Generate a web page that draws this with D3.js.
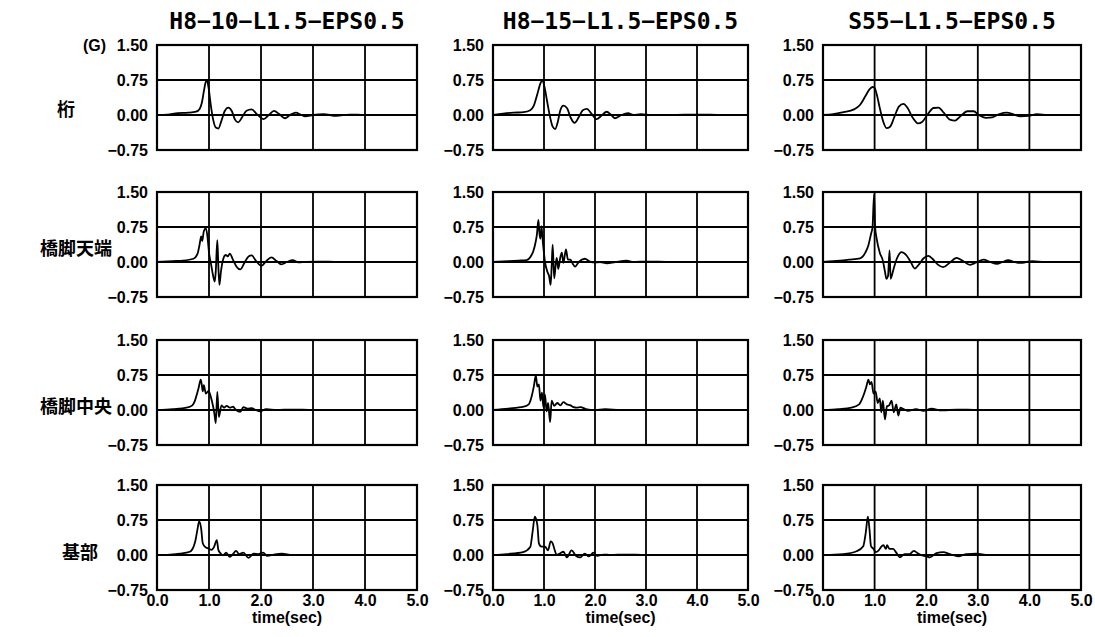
<!DOCTYPE html>
<html>
<head>
<meta charset="utf-8">
<script src="https://cdnjs.cloudflare.com/ajax/libs/d3/7.8.5/d3.min.js"></script>
<style>
  body { margin: 0; background: #fff; }
  .tick text { font-family: "Liberation Sans", Arial, sans-serif; font-weight: bold; font-size: 16px; fill: #000; }
</style>
</head>
<body>
<div class="canvas"></div>
<script>
// ------------------------ DATA ([time(sec), G])
const titles = ['H8−10−L1.5−EPS0.5', 'H8−15−L1.5−EPS0.5', 'S55−L1.5−EPS0.5'];
const rowLabels = ['桁', '橋脚天端', '橋脚中央', '基部'];
const yTicks = [-0.75, 0, 0.75, 1.5];
const xTicks = [0, 1, 2, 3, 4, 5];

const ketaH810 = [[0,0],[0.2,0.01],[0.4,0.04],[0.6,0.05],[0.75,0.07],[0.82,0.13],[0.86,0.25],[0.9,0.5],[0.93,0.68],[0.96,0.74],[0.99,0.6],[1.03,0.25],[1.08,-0.1],[1.13,-0.27],[1.18,-0.29],[1.24,-0.12],[1.3,0.08],[1.37,0.16],[1.44,0.08],[1.5,-0.1],[1.56,-0.16],[1.63,-0.06],[1.72,0.09],[1.82,0.12],[1.92,0.02],[2.05,-0.09],[2.15,0.0],[2.25,0.09],[2.35,0.02],[2.46,-0.07],[2.56,0.0],[2.67,0.05],[2.76,0.01],[2.85,-0.03],[3.0,0.0],[3.2,0.02],[3.45,-0.02],[3.7,0.01],[4.0,0.0],[4.5,0.0],[5,0]];
const ketaH815 = [[0,0],[0.2,0.03],[0.4,0.05],[0.6,0.06],[0.73,0.1],[0.8,0.2],[0.87,0.45],[0.93,0.68],[0.97,0.74],[1.01,0.6],[1.06,0.3],[1.12,-0.05],[1.17,-0.25],[1.22,-0.3],[1.27,-0.15],[1.32,0.1],[1.38,0.2],[1.45,0.15],[1.52,-0.05],[1.6,-0.17],[1.68,-0.05],[1.76,0.1],[1.84,0.13],[1.93,0.03],[2.03,-0.09],[2.13,-0.01],[2.23,0.07],[2.31,0.01],[2.39,-0.07],[2.5,-0.01],[2.65,0.04],[2.75,0.0],[2.9,0.02],[3.1,0.0],[3.5,0.0],[4,0.01],[4.5,0],[5,0]];
const ketaS55 = [[0,0],[0.2,0.02],[0.4,0.06],[0.6,0.12],[0.72,0.22],[0.82,0.4],[0.9,0.55],[0.96,0.6],[1.0,0.58],[1.04,0.45],[1.1,0.15],[1.17,-0.15],[1.23,-0.28],[1.3,-0.25],[1.38,-0.05],[1.47,0.18],[1.56,0.24],[1.64,0.15],[1.74,-0.06],[1.84,-0.18],[1.92,-0.15],[2.02,0.0],[2.14,0.15],[2.24,0.16],[2.34,0.05],[2.46,-0.1],[2.56,-0.12],[2.66,-0.03],[2.8,0.08],[2.92,0.08],[3.02,0.0],[3.16,-0.06],[3.28,-0.05],[3.42,0.02],[3.56,0.05],[3.68,0.02],[3.82,-0.03],[3.98,-0.02],[4.15,0.02],[4.35,0.0],[4.6,0.0],[5,0]];

const tentanH810 = [[0,0],[0.3,0.02],[0.5,0.03],[0.7,0.07],[0.78,0.18],[0.82,0.38],[0.85,0.55],[0.87,0.45],[0.9,0.66],[0.94,0.72],[0.97,0.55],[1.0,0.2],[1.04,-0.05],[1.08,-0.3],[1.11,-0.42],[1.13,-0.2],[1.16,0.47],[1.18,-0.1],[1.2,-0.49],[1.23,-0.2],[1.27,0.05],[1.32,0.15],[1.36,0.12],[1.4,0.18],[1.46,0.05],[1.53,-0.1],[1.6,-0.16],[1.68,-0.02],[1.76,0.12],[1.82,0.14],[1.9,0.03],[2.01,-0.08],[2.1,0.02],[2.2,0.1],[2.3,0.02],[2.39,-0.05],[2.5,0.0],[2.61,0.04],[2.72,-0.01],[2.85,0.0],[3.1,0.01],[3.5,0.0],[4,0.0],[5,0]];
const tentanH815 = [[0,0],[0.3,0.02],[0.5,0.03],[0.66,0.04],[0.74,0.12],[0.79,0.23],[0.84,0.45],[0.86,0.58],[0.89,0.9],[0.91,0.62],[0.93,0.5],[0.95,0.77],[0.98,0.4],[1.02,0.0],[1.07,-0.22],[1.1,-0.3],[1.13,-0.49],[1.15,-0.1],[1.17,0.37],[1.2,-0.35],[1.23,-0.05],[1.25,0.09],[1.28,-0.15],[1.32,0.1],[1.35,0.2],[1.38,-0.02],[1.43,0.27],[1.47,0.05],[1.52,0.05],[1.56,-0.03],[1.61,-0.1],[1.68,0.0],[1.8,0.07],[1.9,0.01],[2.0,-0.01],[2.1,0.0],[2.23,-0.03],[2.4,0.0],[2.62,0.03],[2.75,0.0],[3.0,0.01],[3.5,0],[4,0],[5,0]];
const tentanS55 = [[0,0],[0.2,0.02],[0.33,0.03],[0.5,0.05],[0.72,0.08],[0.82,0.2],[0.88,0.36],[0.93,0.6],[0.96,0.75],[0.99,1.45],[1.01,0.75],[1.04,0.5],[1.1,0.2],[1.16,0.03],[1.2,-0.2],[1.23,-0.36],[1.26,-0.3],[1.29,0.25],[1.31,-0.36],[1.36,-0.18],[1.43,0.07],[1.52,0.21],[1.62,0.14],[1.7,0.0],[1.78,-0.14],[1.86,-0.05],[1.95,0.08],[2.04,0.13],[2.12,0.07],[2.22,-0.05],[2.33,-0.11],[2.45,-0.02],[2.59,0.09],[2.7,0.03],[2.85,-0.06],[2.97,-0.01],[3.11,0.05],[3.24,0.0],[3.37,-0.04],[3.48,0.0],[3.59,0.04],[3.7,0.0],[3.82,-0.02],[4.06,0.02],[4.3,0.0],[4.6,0.0],[5,0]];

const chuoH810 = [[0,0],[0.3,0.02],[0.57,0.05],[0.68,0.1],[0.73,0.2],[0.77,0.35],[0.8,0.47],[0.84,0.65],[0.86,0.55],[0.88,0.4],[0.9,0.53],[0.94,0.35],[0.99,0.41],[1.05,0.22],[1.1,-0.05],[1.13,-0.28],[1.16,0.39],[1.19,-0.15],[1.24,0.1],[1.29,0.05],[1.34,0.09],[1.4,0.05],[1.46,0.07],[1.52,0.0],[1.6,-0.04],[1.66,0.06],[1.74,0.03],[1.82,0.04],[1.9,0.0],[1.98,-0.03],[2.1,0.02],[2.3,0.0],[2.6,0.01],[3,0.0],[4,0.0],[5,0]];
const chuoH815 = [[0,0],[0.3,0.03],[0.6,0.07],[0.7,0.12],[0.76,0.3],[0.8,0.5],[0.84,0.74],[0.87,0.5],[0.9,0.55],[0.93,0.2],[0.96,0.37],[0.99,0.05],[1.02,0.33],[1.05,-0.03],[1.08,0.15],[1.12,-0.26],[1.15,0.2],[1.2,0.09],[1.26,0.15],[1.32,0.1],[1.38,0.17],[1.45,0.12],[1.52,0.1],[1.58,0.06],[1.64,0.05],[1.72,0.06],[1.82,0.02],[2.0,0.0],[2.2,0.02],[2.5,0.0],[3,0.0],[4,0],[5,0]];
const chuoS55 = [[0,0],[0.3,0.02],[0.55,0.05],[0.7,0.12],[0.78,0.3],[0.84,0.5],[0.88,0.65],[0.91,0.55],[0.94,0.6],[0.98,0.35],[1.02,0.4],[1.06,0.15],[1.1,0.25],[1.13,-0.05],[1.16,0.2],[1.2,-0.2],[1.24,0.08],[1.28,0.1],[1.33,0.2],[1.37,-0.05],[1.42,0.12],[1.46,-0.12],[1.5,0.05],[1.56,0.02],[1.65,-0.02],[1.8,0.02],[1.95,-0.02],[2.1,0.03],[2.3,-0.01],[2.6,0.01],[3,0],[4,0],[5,0]];

const kibuH810 = [[0,0],[0.25,0.01],[0.44,0.03],[0.63,0.07],[0.73,0.27],[0.78,0.56],[0.81,0.72],[0.85,0.56],[0.88,0.25],[0.92,0.18],[0.99,0.14],[1.05,0.11],[1.1,0.18],[1.15,0.32],[1.18,0.11],[1.22,0.04],[1.27,-0.01],[1.33,0.05],[1.4,-0.04],[1.46,0.02],[1.52,0.09],[1.58,0.02],[1.66,0.05],[1.76,-0.06],[1.86,0.03],[1.95,0.02],[2.04,0.05],[2.12,-0.02],[2.25,0.01],[2.4,0.03],[2.6,0.0],[3,0],[4,0],[5,0]];
const kibuH815 = [[0,0],[0.27,0.02],[0.59,0.06],[0.73,0.17],[0.78,0.53],[0.82,0.82],[0.87,0.64],[0.9,0.25],[0.95,0.18],[1.02,0.18],[1.08,0.1],[1.13,0.29],[1.17,0.25],[1.2,0.14],[1.25,0.0],[1.31,0.03],[1.38,0.07],[1.45,-0.05],[1.54,0.1],[1.63,-0.02],[1.71,-0.05],[1.8,0.03],[1.88,-0.03],[1.97,0.05],[2.04,-0.02],[2.17,0.01],[2.3,0.0],[2.6,0.01],[3,0],[4,0],[5,0]];
const kibuS55 = [[0,0],[0.39,0.02],[0.65,0.08],[0.78,0.19],[0.83,0.49],[0.87,0.82],[0.9,0.56],[0.93,0.19],[0.98,0.13],[1.02,0.06],[1.08,0.1],[1.14,0.19],[1.17,0.21],[1.22,0.13],[1.24,0.21],[1.29,0.13],[1.36,0.13],[1.42,0.05],[1.49,-0.05],[1.58,0.02],[1.68,0.02],[1.76,0.09],[1.82,0.05],[1.92,-0.01],[2.01,-0.03],[2.07,-0.05],[2.2,0.04],[2.33,0.06],[2.46,0.02],[2.62,-0.03],[2.78,0.02],[2.97,0.03],[3.2,0.0],[3.5,0.0],[4,0],[5,0]];

// rows x columns
const panels = [
  [ketaH810, ketaH815, ketaS55],
  [tentanH810, tentanH815, tentanS55],
  [chuoH810, chuoH815, chuoS55],
  [kibuH810, kibuH815, kibuS55]
];

//------------------------ layout
const dims = { width: 1095, height: 637, plotH: 105 };
const colLeft = [157, 493, 823];
const colWidth = [260, 255, 258];
const rowTop = [45, 192, 340, 485];
const labelX = [66, 76, 76, 80];
const labelDy = [-5, -13, -3, -2];

//------------------------ Svg container
const svg = d3.select('.canvas')
  .append('svg')
  .attr('width', dims.width)
  .attr('height', dims.height);

const y = d3.scaleLinear().domain([-0.75, 1.5]).range([dims.plotH, 0]);

// column titles
svg.selectAll('.title')
  .data(titles)
  .enter().append('text')
  .attr('class', 'title')
  .attr('x', (d, i) => colLeft[i] + colWidth[i] / 2)
  .attr('y', 29)
  .attr('text-anchor', 'middle')
  .style('font-family', '"DejaVu Sans Mono", monospace')
  .style('font-weight', 'bold')
  .style('font-size', '23px')
  .text(d => d);

// unit
svg.append('text')
  .attr('x', 106).attr('y', rowTop[0])
  .attr('dy', '0.35em')
  .attr('text-anchor', 'end')
  .style('font-family', '"Liberation Sans", Arial, sans-serif')
  .style('font-weight', 'bold')
  .style('font-size', '16px')
  .text('(G)');

// row labels
svg.selectAll('.rowlabel')
  .data(rowLabels)
  .enter().append('text')
  .attr('class', 'rowlabel')
  .attr('x', (d, i) => labelX[i])
  .attr('y', (d, i) => rowTop[i] + y(0) + labelDy[i])
  .attr('dy', '0.35em')
  .attr('text-anchor', 'middle')
  .style('font-family', '"Noto Sans CJK JP", sans-serif')
  .style('font-weight', 'bold')
  .style('font-size', '18px')
  .text(d => d);

const line = d3.line().curve(d3.curveMonotoneX);

//------------------------ panels
panels.forEach((row, r) => {
  row.forEach((series, c) => {
    const x = d3.scaleLinear().domain([0, 5]).range([0, colWidth[c]]);
    const g = svg.append('g')
      .attr('transform', `translate(${colLeft[c]}, ${rowTop[r]})`);

    // grid
    g.selectAll('.vgrid').data(xTicks.slice(1, -1)).enter().append('line')
      .attr('x1', d => x(d)).attr('x2', d => x(d))
      .attr('y1', 0).attr('y2', dims.plotH)
      .attr('stroke', '#000').attr('stroke-width', 1.8);
    g.selectAll('.hgrid').data(yTicks.slice(1, -1)).enter().append('line')
      .attr('x1', 0).attr('x2', colWidth[c])
      .attr('y1', d => y(d)).attr('y2', d => y(d))
      .attr('stroke', '#000').attr('stroke-width', 1.8);

    // frame
    g.append('rect')
      .attr('width', colWidth[c]).attr('height', dims.plotH)
      .attr('fill', 'none').attr('stroke', '#000').attr('stroke-width', 2.2);

    // trace
    line.x(d => x(d[0])).y(d => y(d[1]));
    g.append('path')
      .datum(series)
      .attr('d', line)
      .attr('fill', 'none')
      .attr('stroke', '#000')
      .attr('stroke-width', 1.8)
      .attr('stroke-linejoin', 'round');

    // y axis labels
    g.append('g')
      .call(d3.axisLeft(y).tickValues(yTicks).tickFormat(d3.format('.2f')).tickSize(0).tickPadding(9))
      .call(a => a.select('.domain').remove());

    // x axis labels, bottom row only
    if (r === panels.length - 1) {
      g.append('g')
        .attr('transform', `translate(0, ${dims.plotH})`)
        .call(d3.axisBottom(x).tickValues(xTicks).tickFormat(d3.format('.1f')).tickSize(0).tickPadding(5))
        .call(a => a.select('.domain').remove());

      g.append('text')
        .attr('x', colWidth[c] / 2).attr('y', dims.plotH + 33)
        .attr('text-anchor', 'middle')
        .style('font-family', '"Liberation Sans", Arial, sans-serif')
        .style('font-weight', 'bold')
        .style('font-size', '16px')
        .text('time(sec)');
    }
  });
});
</script>
</body>
</html>
